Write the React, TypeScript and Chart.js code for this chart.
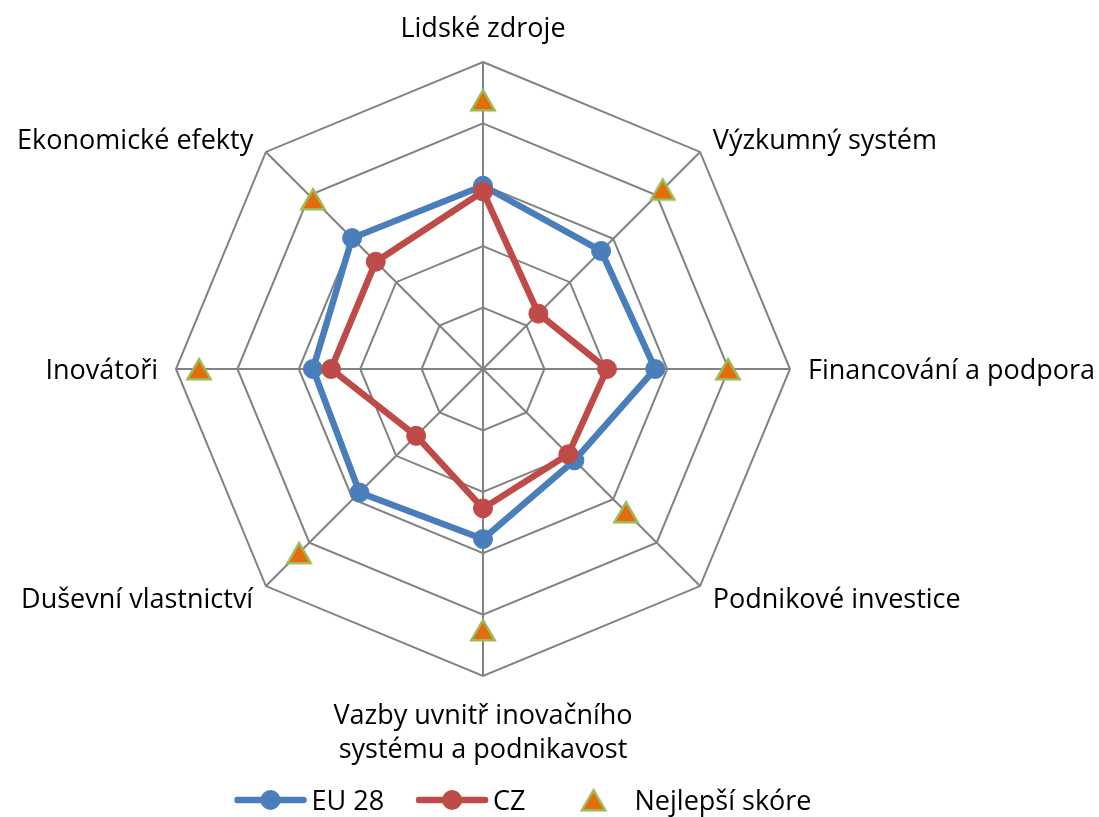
import React, { useEffect, useRef } from 'react';
import { Chart, registerables } from 'chart.js';

Chart.register(...registerables);

// ---- data ----
const categories: (string | string[])[] = [
  'Lidské zdroje',
  'Výzkumný systém',
  'Financování a podpora',
  'Podnikové investice',
  ['Vazby uvnitř inovačního', 'systému a podnikavost'],
  'Duševní vlastnictví',
  'Inovátoři',
  'Ekonomické efekty',
];
const seriesNames = ['EU 28', 'CZ', 'Nejlepší skóre'];
const eu28 = [0.597, 0.544, 0.561, 0.421, 0.554, 0.569, 0.554, 0.603];
const cz = [0.578, 0.255, 0.404, 0.393, 0.454, 0.308, 0.495, 0.494];
const bestScore = [0.876, 0.828, 0.798, 0.659, 0.85, 0.847, 0.925, 0.783];
const scaleMin = 0;
const scaleMax = 1;
const scaleStep = 0.2;

// ---- styles ----
const BLUE = '#4A7EBB';
const RED = '#BE4B48';
const ORANGE = '#E46C0A';
const GREEN = '#9BBB59';
const GRID = '#828282';
const FONT_FAMILY = '"Open Sans", sans-serif';
const FONT_SIZE = 27;
const LINE_H = 34;
const SIDE_PAD = 18;
const TOP_PAD = 35;
const BOTTOM_PAD = 38;
const LEGEND_CENTER_X = 523;
const LEGEND_Y = 800;

function makeTriangle(): HTMLCanvasElement {
  const c = document.createElement('canvas');
  c.width = 30;
  c.height = 28;
  const g = c.getContext('2d')!;
  g.beginPath();
  g.moveTo(15, 4.2);
  g.lineTo(26.6, 24.2);
  g.lineTo(3.4, 24.2);
  g.closePath();
  g.fillStyle = ORANGE;
  g.fill();
  g.lineWidth = 2.5;
  g.strokeStyle = GREEN;
  g.lineJoin = 'miter';
  g.stroke();
  return c;
}

const labelPlugin = {
  id: 'axisLabels',
  afterDraw(chart: any) {
    const scale = chart.scales.r;
    const ctx = chart.ctx as CanvasRenderingContext2D;
    ctx.save();
    ctx.font = `${FONT_SIZE}px ${FONT_FAMILY}`;
    ctx.fillStyle = '#000000';
    ctx.textBaseline = 'alphabetic';
    const capHalf = FONT_SIZE * 0.357;
    categories.forEach((label, i) => {
      const lines = Array.isArray(label) ? label : [label];
      const deg = Math.round((scale.getIndexAngle(i) * 180) / Math.PI) % 360;
      let pad = SIDE_PAD;
      if (deg === 0) pad = TOP_PAD;
      else if (deg === 180) pad = BOTTOM_PAD;
      const p = scale.getPointPosition(i, scale.drawingArea + pad);
      ctx.textAlign = deg === 0 || deg === 180 ? 'center' : deg < 180 ? 'left' : 'right';
      let y0 = p.y;
      if (deg === 0) y0 = p.y - (lines.length - 1) * LINE_H;
      lines.forEach((ln, k) => {
        ctx.fillText(ln, p.x, y0 + k * LINE_H + capHalf);
      });
    });
    ctx.restore();
  },
};

const legendPlugin = {
  id: 'customLegend',
  afterDraw(chart: any) {
    const ctx = chart.ctx as CanvasRenderingContext2D;
    ctx.save();
    ctx.font = `${FONT_SIZE}px ${FONT_FAMILY}`;
    const sym = 72;
    const gapText = 5;
    const gapItem = 32;
    const widths = seriesNames.map((n) => ctx.measureText(n).width);
    const total =
      widths.reduce((a, w) => a + sym + gapText + w, 0) + gapItem * (seriesNames.length - 1);
    let x = LEGEND_CENTER_X - total / 2;
    const y = LEGEND_Y;
    chart.data.datasets.forEach((ds: any, i: number) => {
      const cx = x + sym / 2;
      if (ds.showLine === false) {
        const img = ds.pointStyle as HTMLCanvasElement;
        ctx.drawImage(img, cx - img.width / 2, y - img.height / 2);
      } else {
        ctx.strokeStyle = ds.borderColor;
        ctx.lineWidth = 6.5;
        ctx.lineCap = 'round';
        ctx.beginPath();
        ctx.moveTo(x + 3, y);
        ctx.lineTo(x + sym - 3, y);
        ctx.stroke();
        ctx.fillStyle = ds.borderColor;
        ctx.beginPath();
        ctx.arc(cx, y, 10, 0, Math.PI * 2);
        ctx.fill();
      }
      ctx.fillStyle = '#000000';
      ctx.textAlign = 'left';
      ctx.textBaseline = 'alphabetic';
      ctx.fillText(seriesNames[i], x + sym + gapText, y + FONT_SIZE * 0.357);
      x += sym + gapText + widths[i] + gapItem;
    });
    ctx.restore();
  },
};

export default function App() {
  const canvasRef = useRef<HTMLCanvasElement | null>(null);

  useEffect(() => {
    const canvas = canvasRef.current;
    if (!canvas) return;
    const tri = makeTriangle();
    const chart = new Chart(canvas, {
      type: 'radar',
      data: {
        labels: categories as any,
        datasets: [
          {
            label: seriesNames[0],
            data: eu28,
            borderColor: BLUE,
            backgroundColor: BLUE,
            borderWidth: 6.5,
            fill: false,
            tension: 0,
            pointStyle: 'circle',
            pointRadius: 9.5,
            pointBorderWidth: 1,
            pointBackgroundColor: BLUE,
            pointBorderColor: BLUE,
            order: 3,
          },
          {
            label: seriesNames[1],
            data: cz,
            borderColor: RED,
            backgroundColor: RED,
            borderWidth: 6.5,
            fill: false,
            tension: 0,
            pointStyle: 'circle',
            pointRadius: 9.5,
            pointBorderWidth: 1,
            pointBackgroundColor: RED,
            pointBorderColor: RED,
            order: 2,
          },
          {
            label: seriesNames[2],
            data: bestScore,
            showLine: false,
            borderColor: 'rgba(0,0,0,0)',
            backgroundColor: ORANGE,
            borderWidth: 0,
            fill: false,
            pointStyle: tri as any,
            pointRadius: 14,
            order: 1,
          } as any,
        ],
      },
      options: {
        responsive: false,
        animation: false,
        layout: { padding: { left: 176, right: 309, top: 62, bottom: 141 } },
        plugins: {
          legend: { display: false },
          tooltip: { enabled: false },
          title: { display: false },
        },
        scales: {
          r: {
            min: scaleMin,
            max: scaleMax,
            beginAtZero: true,
            ticks: { display: false, stepSize: scaleStep },
            grid: { color: GRID, lineWidth: 2, circular: false },
            angleLines: { color: GRID, lineWidth: 2 },
            pointLabels: { display: false },
          },
        },
      },
      plugins: [labelPlugin, legendPlugin],
    });
    return () => chart.destroy();
  }, []);

  return (
    <div style={{ position: 'fixed', left: 0, top: 0, width: 1099, height: 817, background: '#fff' }}>
      <canvas ref={canvasRef} width={1099} height={817} style={{ display: 'block' }} />
    </div>
  );
}
